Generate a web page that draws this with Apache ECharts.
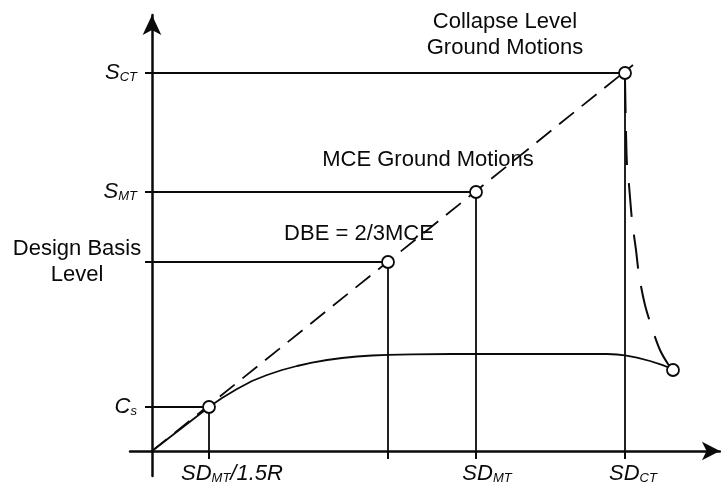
<!DOCTYPE html>
<html>
<head>
<meta charset="utf-8">
<script src="https://cdn.jsdelivr.net/npm/echarts@6/dist/echarts.min.js"></script>
<style>html,body{margin:0;padding:0;background:#fff}#c{width:721px;height:486px}</style>
</head>
<body>
<div id="c"></div>
<script>
// Key levels: [SD_MT/1.5R, DBE, SD_MT, SD_CT] along x; [Cs, DBE, S_MT, S_CT] along y
const levelX = [57, 236, 324, 473];
const levelY = [44, 189, 259, 378];
// y tick labels (same order as levelY)
const yTickLabels = ['{i|C}{s|s}{p5| }', '{t|Design Basis\nLevel}', '{i|S}{s|MT}{p5| }', '{i|S}{s|CT}{p5| }'];
// x tick labels
const xLabelValues = [57, 324, 473];
const xTickLabels = ['{pa| }{i|SD}{s|MT}{i|/1.5R}', '{pb| }{i|SD}{s|MT}', '{pc| }{i|SD}{s|CT}'];
// Elastic demand line (dashed)
const elasticLine = [[0, 0], [481, 386]];
// Pushover capacity curve (solid)
const pushoverCurve = [[0, 0], [57, 44], [70, 53], [85, 62], [100, 70], [115, 76], [130, 81], [145, 85], [160, 88.3], [175, 91], [190, 93], [205, 94.5], [220, 95.5], [236, 96.2], [260, 96.7], [300, 97], [455, 97], [465, 96.5], [473, 95.6], [485, 93.3], [498, 90], [510, 86.2], [518, 83]];
// Collapse branch (dashed curve)
const collapseCurve = [[473, 372], [474, 319], [475, 286], [477, 266], [480, 231], [484, 201], [487, 176], [493, 146], [500, 123], [508, 101], [516, 87], [521, 81]];
// Marked points (circles)
const markedPoints = [[57, 44], [236, 189], [324, 259], [473, 378], [521, 81]];
// Annotations
const annotationTexts = ['Collapse Level\nGround Motions', 'MCE Ground Motions', 'DBE = 2/3MCE'];
const annotationX = [353, 276, 207];
const annotationY = [416, 291, 217];

const FONT = 'Liberation Sans, Arial, sans-serif';
const INK = '#0a0a0a';
const rich = {
  i: {fontFamily: FONT, fontStyle: 'italic', fontSize: 22, color: INK},
  s: {fontFamily: FONT, fontStyle: 'italic', fontSize: 13, color: INK, verticalAlign: 'bottom'},
  t: {fontFamily: FONT, fontSize: 22, color: INK, width: 130, align: 'center', lineHeight: 26},
  p5: {width: 5},
  pa: {width: 46},
  pb: {width: 22},
  pc: {width: 16}
};

const guideSeries = [];
levelX.forEach((x, k) => {
  const y = levelY[k];
  guideSeries.push({type: 'line', data: [[0, y], [x, y]], symbol: 'none', silent: true,
    lineStyle: {color: INK, width: 1.8}, z: 3});
  guideSeries.push({type: 'line', data: [[x, y], [x, 0]], symbol: 'none', silent: true,
    lineStyle: {color: INK, width: 1.8}, z: 3});
});

const chart = echarts.init(document.getElementById('c'));
chart.setOption({
  animation: false,
  backgroundColor: '#fff',
  grid: {left: 130, right: 1, top: 15, bottom: 10, outerBoundsMode: 'none'},
  xAxis: {
    type: 'value', min: -22, max: 568,
    splitLine: {show: false},
    axisLine: {onZero: true, lineStyle: {color: INK, width: 2.5}, symbol: ['none', 'arrow'], symbolSize: [14, 18]},
    axisTick: {show: true, customValues: levelX, length: 8, inside: false, lineStyle: {color: INK, width: 2}},
    axisLabel: {customValues: xLabelValues, margin: -13, rich: rich,
      formatter: v => xTickLabels[xLabelValues.indexOf(v)] || ''}
  },
  yAxis: {
    type: 'value', min: -25, max: 436,
    splitLine: {show: false},
    axisLine: {onZero: true, lineStyle: {color: INK, width: 2.5}, symbol: ['none', 'arrow'], symbolSize: [14, 20]},
    axisTick: {show: true, customValues: levelY, length: 7, inside: false, lineStyle: {color: INK, width: 2}},
    axisLabel: {customValues: levelY, margin: -12, rich: rich,
      formatter: v => yTickLabels[levelY.indexOf(v)] || ''}
  },
  series: [
    {type: 'scatter', data: annotationTexts.map((t, k) => [annotationX[k], annotationY[k], t]),
      symbolSize: 0, itemStyle: {color: INK, opacity: 1}, silent: true, z: 1,
      label: {show: true, position: 'inside', formatter: p => p.value[2], fontFamily: FONT, fontSize: 22,
        lineHeight: 26, color: INK, opacity: 1, textBorderWidth: 0, align: 'center'}},
    ...guideSeries,
    {type: 'line', data: elasticLine, symbol: 'none', silent: true, z: 4,
      lineStyle: {color: INK, width: 1.8, type: [19, 10]}},
    {type: 'line', data: pushoverCurve, symbol: 'none', silent: true, z: 4,
      lineStyle: {color: INK, width: 1.8}},
    {type: 'line', data: collapseCurve, symbol: 'none', silent: true, z: 4, smooth: 0.3,
      lineStyle: {color: INK, width: 2, type: [34, 18]}},
    {type: 'scatter', data: markedPoints, symbol: 'circle', symbolSize: 12, silent: true, z: 10,
      itemStyle: {color: '#fff', borderColor: INK, borderWidth: 1.8, opacity: 1}}
  ]
});
</script>
</body>
</html>
